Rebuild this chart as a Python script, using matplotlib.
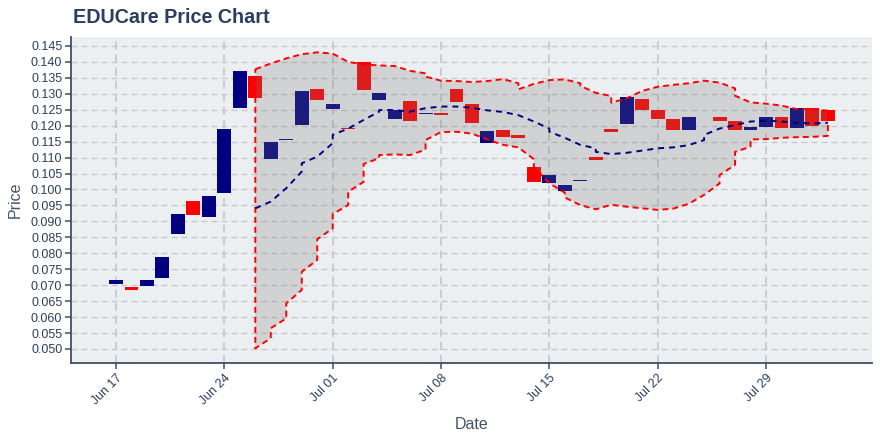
import matplotlib
matplotlib.use('Agg')
import matplotlib.pyplot as plt
import matplotlib.dates as mdates
import numpy as np
import pandas as pd

plt.rcParams['font.family'] = ['Liberation Sans', 'DejaVu Sans']
plt.rcParams['lines.scale_dashes'] = False

# ---------------- data ----------------
candle_dates = ['2024-06-17', '2024-06-18', '2024-06-19', '2024-06-20', '2024-06-21',
                '2024-06-22', '2024-06-23', '2024-06-24', '2024-06-25', '2024-06-26',
                '2024-06-27', '2024-06-28', '2024-06-29', '2024-06-30', '2024-07-01',
                '2024-07-02', '2024-07-03', '2024-07-04', '2024-07-05', '2024-07-06',
                '2024-07-07', '2024-07-08', '2024-07-09', '2024-07-10', '2024-07-11',
                '2024-07-12', '2024-07-13', '2024-07-14', '2024-07-15', '2024-07-16',
                '2024-07-17', '2024-07-18', '2024-07-19', '2024-07-20', '2024-07-21',
                '2024-07-22', '2024-07-23', '2024-07-24', '2024-07-26', '2024-07-27',
                '2024-07-28', '2024-07-29', '2024-07-30', '2024-07-31', '2024-08-01',
                '2024-08-02']
opens = [0.0704, 0.0694, 0.0698, 0.0723, 0.0861, 0.0964, 0.0914, 0.0990, 0.1256, 0.1357,
         0.1096, 0.1155, 0.1203, 0.1316, 0.1253, 0.1193, 0.1401, 0.1281, 0.1222, 0.1278,
         0.1237, 0.1241, 0.1316, 0.1269, 0.1146, 0.1187, 0.1171, 0.1071, 0.1021, 0.0996,
         0.1027, 0.1102, 0.1190, 0.1206, 0.1284, 0.1250, 0.1222, 0.1187, 0.1227, 0.1215,
         0.1187, 0.1196, 0.1227, 0.1193, 0.1255, 0.1249]
closes = [0.0717, 0.0685, 0.0717, 0.0789, 0.0924, 0.0920, 0.0980, 0.1190, 0.1372, 0.1288,
          0.1150, 0.1158, 0.1310, 0.1281, 0.1269, 0.1190, 0.1313, 0.1303, 0.1250, 0.1215,
          0.1241, 0.1234, 0.1275, 0.1209, 0.1184, 0.1165, 0.1161, 0.1024, 0.1046, 0.1015,
          0.1030, 0.1093, 0.1181, 0.1291, 0.1250, 0.1222, 0.1187, 0.1228, 0.1215, 0.1187,
          0.1196, 0.1227, 0.1193, 0.1255, 0.1199, 0.1215]

band_dates = pd.date_range('2024-06-26', '2024-08-02', freq='D')
upper_in = [0.1377, 0.1395, 0.1411, 0.1424, 0.1430, 0.1426, 0.1400, 0.1392, 0.1389, 0.1387,
            0.1372, 0.1364, 0.1341, 0.1340, 0.1337, 0.1340, 0.1346, 0.1333, 0.1331, 0.1343,
            0.1345, 0.1333, 0.1303, 0.1293, 0.1286, 0.1309, 0.1322, 0.1328, 0.1333, 0.1341,
            0.1335, 0.1317, 0.1273, 0.1269, 0.1263, 0.1252, 0.1252, 0.1247]
upper_out = [0.1377, 0.1395, 0.1411, 0.1424, 0.1430, 0.1426, 0.1400, 0.1392, 0.1389, 0.1387,
             0.1372, 0.1354, 0.1341, 0.1340, 0.1337, 0.1340, 0.1346, 0.1314, 0.1331, 0.1343,
             0.1345, 0.1325, 0.1303, 0.1272, 0.1286, 0.1309, 0.1322, 0.1328, 0.1333, 0.1341,
             0.1335, 0.1294, 0.1273, 0.1269, 0.1263, 0.1252, 0.1252, 0.1247]
mid_in = [0.0941, 0.0962, 0.1004, 0.1056, 0.1103, 0.1145, 0.1191, 0.1218, 0.1244, 0.1249,
          0.1244, 0.1255, 0.1260, 0.1260, 0.1256, 0.1248, 0.1243, 0.1233, 0.1213, 0.1191,
          0.1162, 0.1140, 0.1129, 0.1111, 0.1115, 0.1122, 0.1129, 0.1132, 0.1139, 0.1155,
          0.1191, 0.1202, 0.1213, 0.1216, 0.1213, 0.1209, 0.1207, 0.1209]
mid_out = [0.0941, 0.0962, 0.1004, 0.1082, 0.1103, 0.1171, 0.1191, 0.1218, 0.1249, 0.1249,
           0.1244, 0.1255, 0.1260, 0.1260, 0.1256, 0.1248, 0.1243, 0.1233, 0.1213, 0.1181,
           0.1162, 0.1140, 0.1118, 0.1111, 0.1115, 0.1122, 0.1129, 0.1132, 0.1139, 0.1171,
           0.1191, 0.1202, 0.1213, 0.1216, 0.1213, 0.1209, 0.1207, 0.1209]
lower_in = [0.0502, 0.0534, 0.0596, 0.0685, 0.0779, 0.0878, 0.0951, 0.1024, 0.1098, 0.1110,
            0.1108, 0.1125, 0.1180, 0.1181, 0.1175, 0.1157, 0.1140, 0.1132, 0.1095, 0.1019,
            0.0990, 0.0951, 0.0938, 0.0952, 0.0946, 0.0941, 0.0936, 0.0940, 0.0955, 0.0983,
            0.1019, 0.1077, 0.1134, 0.1158, 0.1162, 0.1164, 0.1165, 0.1168]
lower_out = [0.0502, 0.0565, 0.0643, 0.0742, 0.0844, 0.0923, 0.0993, 0.1080, 0.1108, 0.1110,
             0.1108, 0.1155, 0.1180, 0.1181, 0.1175, 0.1157, 0.1140, 0.1132, 0.1071, 0.1019,
             0.0975, 0.0951, 0.0938, 0.0952, 0.0946, 0.0941, 0.0936, 0.0940, 0.0955, 0.0983,
             0.1045, 0.1118, 0.1157, 0.1158, 0.1162, 0.1164, 0.1165, 0.1168]

tick_dates = ['2024-06-17', '2024-06-24', '2024-07-01', '2024-07-08',
              '2024-07-15', '2024-07-22', '2024-07-29']
y_ticks = [0.050, 0.055, 0.060, 0.065, 0.070, 0.075, 0.080, 0.085, 0.090, 0.095,
           0.100, 0.105, 0.110, 0.115, 0.120, 0.125, 0.130, 0.135, 0.140, 0.145]

# ---------------- figure ----------------
TXT = '#2a3f5f'
AX = '#3e4f66'
fig = plt.figure(figsize=(8.8, 4.4), dpi=100)
ax = fig.add_axes([71 / 880, 77 / 440, (872 - 71) / 880, (363 - 36.7) / 440])
ax.set_facecolor('#eceff1')

cx = mdates.date2num(pd.to_datetime(candle_dates))
o = np.array(opens)
c = np.array(closes)
up = c >= o
colors = np.where(up, '#000080', '#ff0000')
ax.bar(cx, c - o, bottom=o, width=0.9, color=colors, linewidth=0, zorder=2)

bx = mdates.date2num(band_dates)
px = np.repeat(bx, 2)
pu = np.ravel(np.column_stack([upper_in, upper_out]))
pm = np.ravel(np.column_stack([mid_in, mid_out]))
pl = np.ravel(np.column_stack([lower_in, lower_out]))

poly_x = np.concatenate([px, px[::-1]])
poly_y = np.concatenate([pu, pl[::-1]])
ax.fill(poly_x, poly_y, facecolor=(0.47, 0.47, 0.47, 0.24), edgecolor='none', zorder=3)
ax.plot(np.append(poly_x, poly_x[0]), np.append(poly_y, poly_y[0]), color='#ff0000',
        lw=1.4, linestyle=(0, (4.3, 2.9)), zorder=4)
ax.plot(px, pm, color='#000080', lw=1.4, linestyle=(0, (4.3, 3.6)), zorder=4)

# axes
x0 = mdates.date2num(pd.Timestamp('2024-06-17'))
ax.set_xlim(x0 - 2.91, x0 + 48.85)
ax.set_ylim(0.0456, 0.1479)
ax.set_xticks(mdates.date2num(pd.to_datetime(tick_dates)))
ax.set_xticklabels([pd.Timestamp(d).strftime('%b %d') for d in tick_dates],
                   rotation=45, ha='right', rotation_mode='anchor')
ax.set_yticks(y_ticks)
ax.set_yticklabels(['%.3f' % v for v in y_ticks])

for s in ['top', 'right']:
    ax.spines[s].set_visible(False)
for s in ['left', 'bottom']:
    ax.spines[s].set_color(AX)
    ax.spines[s].set_linewidth(1.3)
ax.tick_params(axis='both', colors=AX, labelcolor=TXT, labelsize=9, length=4.3, width=1.1, pad=2)

ax.grid(True, axis='y', color='#c4c6c8', lw=0.9, linestyle=(0, (4.3, 2.9)), zorder=0)
ax.grid(True, axis='x', color='#c4c6c8', lw=1.2, linestyle=(0, (5.8, 3.6)), zorder=0)
ax.set_axisbelow(True)

ax.set_xlabel('Date', fontsize=11.5, color='#44546a', labelpad=7)
ax.set_ylabel('Price', fontsize=11.5, color='#44546a', labelpad=6)
fig.text(72.7 / 880, 1 - 22.7 / 440, 'EDUCare Price Chart', fontsize=14.2,
         fontweight='bold', color=TXT, ha='left', va='baseline')

fig.savefig('out.png', dpi=100)
